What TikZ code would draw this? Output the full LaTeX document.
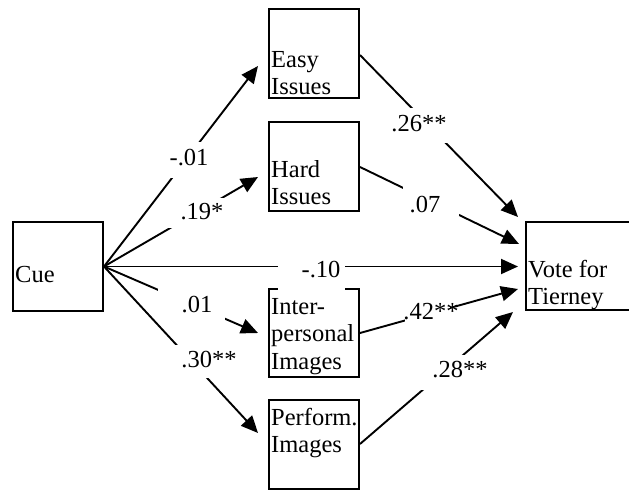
\documentclass[tikz,border=0pt]{standalone}
\usepackage{fontspec}
\setmainfont{Liberation Serif}
\usetikzlibrary{arrows.meta}
\begin{document}
\begin{tikzpicture}[x=1pt,y=-1pt,
  box/.style={draw=black, line width=2pt, inner sep=0pt, rectangle, minimum width=90pt, minimum height=89pt},
  conn/.style={line width=1.9pt, -{Triangle[length=17pt,width=15pt]}},
  lbl/.style={inner sep=0pt, anchor=center, font=\fontsize{24.5}{27.5}\selectfont},
  txt/.style={inner sep=0pt, anchor=base west, font=\fontsize{24.5}{27.5}\selectfont},
  mask/.style={fill=white, draw=none, inner sep=0pt}]
\useasboundingbox (0,0) rectangle (629,491);
\clip (0,0) rectangle (629,491);
\fill[white] (0,0) rectangle (629,491);
% boxes
\node[box] (cue) at (58,266.5) {};
\node[box] (easy) at (314,53.5) {};
\node[box] (hard) at (314,166.5) {};
\node[box, minimum height=88pt] (inter) at (314,333) {};
\node[box] (perf) at (314,444.5) {};
\node[box, minimum width=116pt, minimum height=88pt] (vote) at (584,266) {};
% arrow end points
\coordinate (easyin) at (258,66);
\coordinate (hardin) at (258,177);
\coordinate (interin) at (258,333);
\coordinate (perfin) at (258,433);
\coordinate (voteA) at (518,217);
\coordinate (voteB) at (519,244);
\coordinate (voteC) at (518,266.5);
\coordinate (voteD) at (518,289);
\coordinate (voteE) at (513,312);
\coordinate (easyout) at (360,55);
\coordinate (hardout) at (360,167);
\coordinate (interout) at (360,333);
\coordinate (perfout) at (360,444);
% connectors
\draw[conn] (cue.east) -- (easyin);
\draw[conn] (cue.east) -- (hardin);
\draw[conn] (cue.east) -- (voteC);
\draw[conn] (cue.east) -- (interin);
\draw[conn] (cue.east) -- (perfin);
\draw[conn] (easyout) -- (voteA);
\draw[conn] (hardout) -- (voteB);
\draw[conn] (interout) -- (voteD);
\draw[conn] (perfout) -- (voteE);
% white label boxes
\node[mask, minimum width=38pt, minimum height=36pt] (m1) at (189,160) {};
\node[mask, minimum width=58pt, minimum height=30pt] (m2) at (197,213) {};
\node[mask, minimum width=67pt, minimum height=34pt] (m3) at (191.5,305) {};
\node[mask, minimum width=65pt, minimum height=33pt] (m4) at (207.5,361.5) {};
\node[mask, minimum width=67pt, minimum height=41pt] (m5) at (311.5,270.5) {};
\node[mask, minimum width=58pt, minimum height=35pt] (m6) at (419,125.5) {};
\node[mask, minimum width=56pt, minimum height=31pt] (m7) at (431,200.5) {};
\node[mask, minimum width=45pt, minimum height=22pt] (m8) at (427.5,312) {};
\node[mask, minimum width=67pt, minimum height=35pt] (m9) at (454.5,372.5) {};
% labels
\node[lbl] (l1) at (189,158) {-.01};
\node[lbl] (l2) at (202,212) {.19*};
\node[lbl] (l3) at (197,305) {.01};
\node[lbl] (l4) at (209,360) {.30**};
\node[lbl] (l5) at (321,270) {-.10};
\node[lbl] (l6) at (419,124) {.26**};
\node[lbl] (l7) at (425,205) {.07};
\node[lbl] (l8) at (431,312) {.42**};
\node[lbl] (l9) at (460,370) {.28**};
% box texts
\node[txt] (cuet) at (15,282) {Cue};
\node[txt] (easyt) at (271,67) {\begin{tabular}[t]{@{}l@{}}Easy\\Issues\end{tabular}};
\node[txt] (hardt) at (271,177) {\begin{tabular}[t]{@{}l@{}}Hard\\Issues\end{tabular}};
\node[txt] (intert) at (271,314) {\begin{tabular}[t]{@{}l@{}}Inter-\\personal\\Images\end{tabular}};
\node[txt] (perft) at (271,425) {\begin{tabular}[t]{@{}l@{}}Perform.\\Images\end{tabular}};
\node[txt] (votet) at (528,277) {\begin{tabular}[t]{@{}l@{}}Vote for\\Tierney\end{tabular}};
\end{tikzpicture}
\end{document}
